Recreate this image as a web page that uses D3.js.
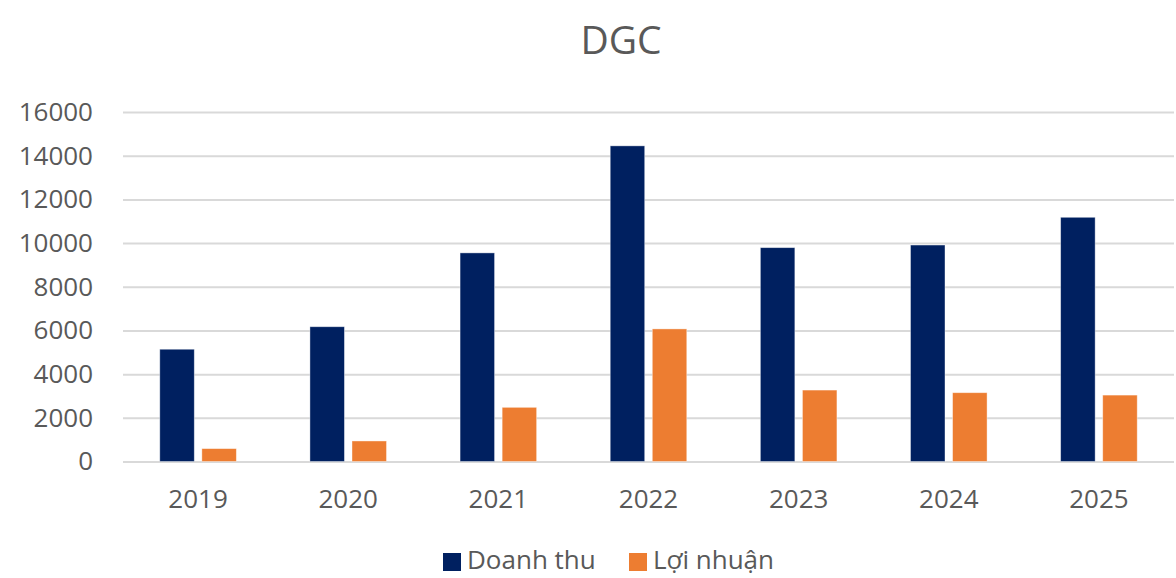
<!DOCTYPE html>
<html>
<head>
<meta charset="utf-8">
<script src="https://cdn.jsdelivr.net/npm/d3@7"></script>
<style>
  body { margin: 0; background: #fff; }
  svg { display: block; font-family: "Open Sans", "Segoe UI", sans-serif; }
</style>
</head>
<body>
<svg id="chart" width="1176" height="578"></svg>
<script>
// data
var years = ["2019", "2020", "2021", "2022", "2023", "2024", "2025"];
var doanhThu = [5140, 6170, 9550, 14450, 9790, 9910, 11180];
var loiNhuan = [590, 940, 2480, 6070, 3270, 3150, 3040];
var seriesNames = ["Doanh thu", "Lợi nhuận"];
var seriesColors = ["#002060", "#ED7D31"];
var yTicks = [0, 2000, 4000, 6000, 8000, 10000, 12000, 14000, 16000];

var svg = d3.select("#chart"),
    width = +svg.attr("width"),
    height = +svg.attr("height");

var plot = { left: 123, right: 1174, top: 112, bottom: 461.5 };
var textColor = "#595959";

var x0 = d3.scaleBand()
    .domain(years)
    .range([plot.left, plot.right])
    .paddingInner(0.49)
    .paddingOuter(0.245);

var x1 = d3.scaleBand()
    .domain(seriesNames)
    .range([0, x0.bandwidth()])
    .paddingInner(0.18);

var y = d3.scaleLinear()
    .domain([0, 16000])
    .range([plot.bottom, plot.top]);

var color = d3.scaleOrdinal().domain(seriesNames).range(seriesColors);

// title
svg.append("text")
    .attr("x", 621)
    .attr("y", 54)
    .attr("text-anchor", "middle")
    .style("font-size", "39px")
    .style("fill", textColor)
    .text("DGC");

// gridlines + y labels
var yAxis = d3.axisLeft(y)
    .tickValues(yTicks)
    .tickSize(-(plot.right - plot.left))
    .tickPadding(30)
    .tickFormat(d3.format("d"));

var gy = svg.append("g")
    .attr("transform", "translate(" + plot.left + ",0)")
    .call(yAxis);
gy.select(".domain").remove();
gy.selectAll(".tick line").attr("stroke", "#d9d9d9").attr("stroke-width", 2);
gy.selectAll(".tick text")
    .style("font-size", "26px")
    .style("fill", textColor)
    .style("font-family", "\"Open Sans\", sans-serif");

// bars
var rows = years.map(function(yr, i) {
    return { year: yr, values: [
        { name: seriesNames[0], value: doanhThu[i] },
        { name: seriesNames[1], value: loiNhuan[i] }
    ] };
});

var groups = svg.append("g")
    .selectAll("g")
    .data(rows)
    .enter().append("g")
    .attr("transform", function(d) { return "translate(" + x0(d.year) + ",0)"; });

groups.selectAll("rect")
    .data(function(d) { return d.values; })
    .enter().append("rect")
    .attr("x", function(d) { return x1(d.name); })
    .attr("y", function(d) { return y(d.value); })
    .attr("width", x1.bandwidth())
    .attr("height", function(d) { return y(0) - y(d.value); })
    .attr("fill", function(d) { return color(d.name); })
    .attr("stroke", "#ffffff")
    .attr("stroke-opacity", 0.5)
    .attr("stroke-width", 0.8);

// x labels
var gx = svg.append("g")
    .attr("transform", "translate(0," + plot.bottom + ")")
    .call(d3.axisBottom(x0).tickSize(0).tickPadding(28));
gx.select(".domain").remove();
gx.selectAll(".tick text")
    .style("font-size", "26px")
    .style("fill", textColor)
    .style("font-family", "\"Open Sans\", sans-serif");

// legend (kept just inside the bottom edge)
var legendItems = [
    { name: seriesNames[0], x: 443 },
    { name: seriesNames[1], x: 629 }
];
var legend = svg.append("g")
    .selectAll("g")
    .data(legendItems)
    .enter().append("g")
    .attr("transform", function(d) { return "translate(" + d.x + ",0)"; });

legend.append("rect")
    .attr("x", 0)
    .attr("y", 553)
    .attr("width", 18)
    .attr("height", 18)
    .attr("fill", function(d) { return color(d.name); });

legend.append("text")
    .attr("x", 24)
    .attr("y", 569)
    .style("font-size", "26px")
    .style("fill", textColor)
    .text(function(d) { return d.name; });
</script>
</body>
</html>
